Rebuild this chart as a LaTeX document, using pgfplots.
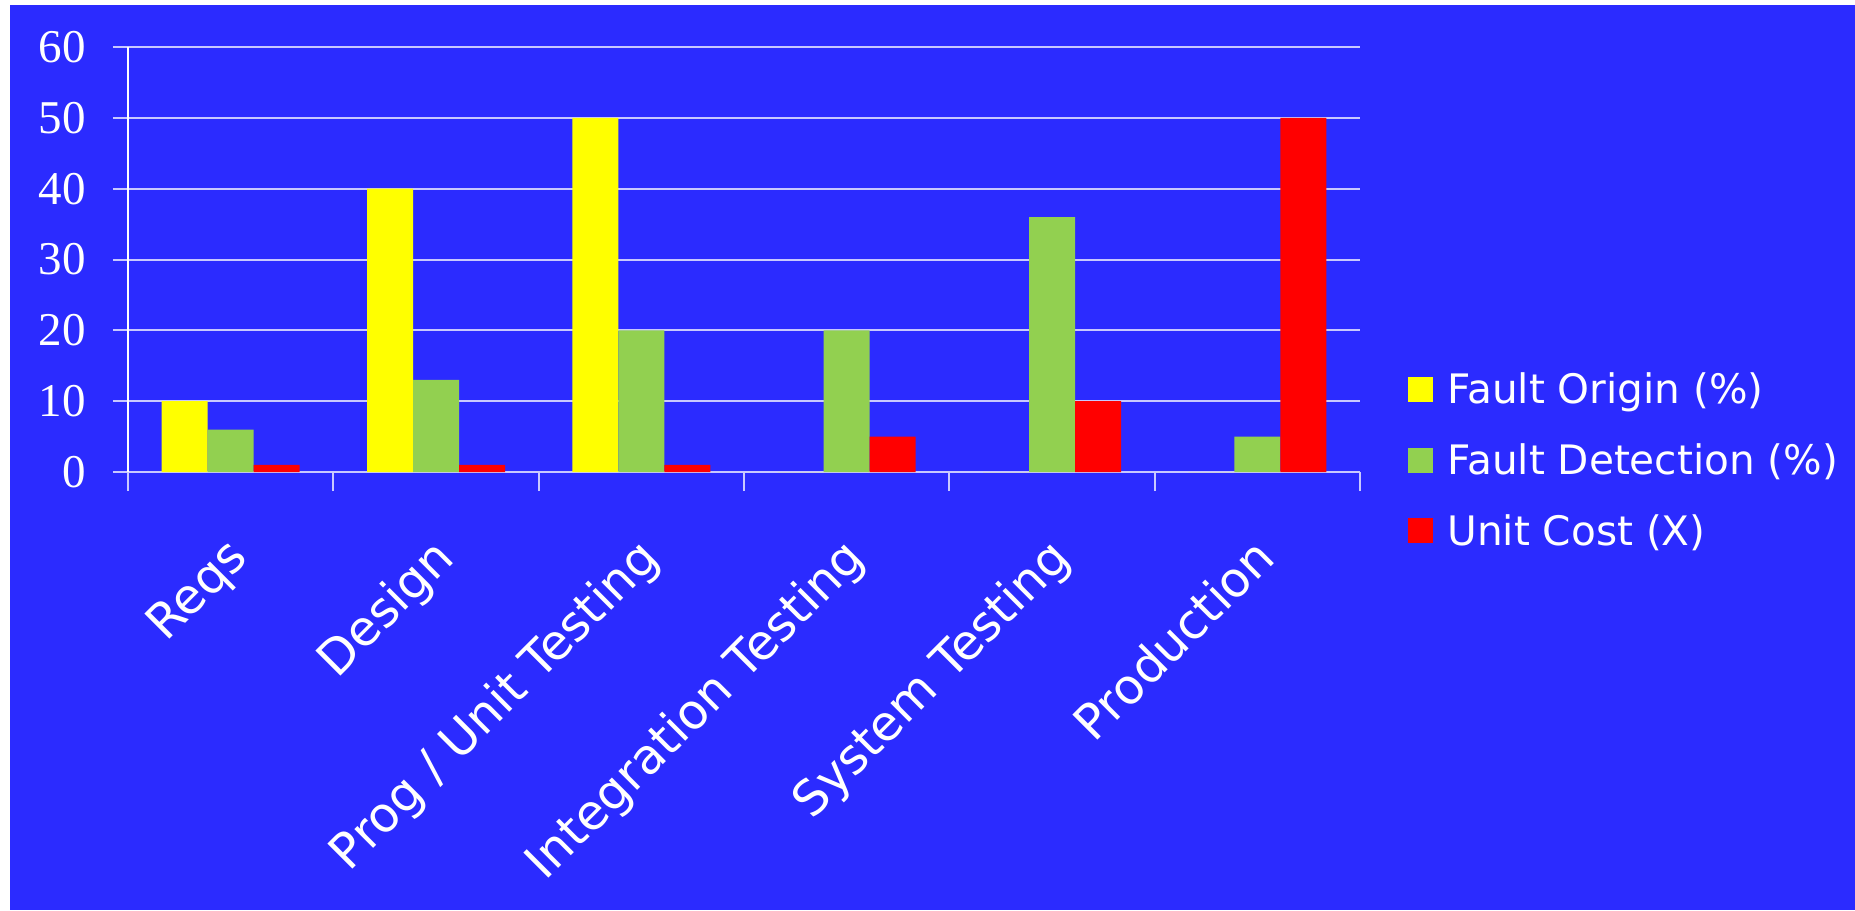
\documentclass[border=0pt]{standalone}
\usepackage{fontspec}
\setmainfont{Liberation Serif}
\newfontfamily\labelfont{DejaVu Sans}
\usepackage{pgfplots}
\pgfplotsset{compat=1.18}
\definecolor{slideblue}{RGB}{43,43,255}
\definecolor{gridlav}{RGB}{200,200,255}
\definecolor{origin}{RGB}{255,255,0}
\definecolor{detect}{RGB}{146,208,80}
\definecolor{cost}{RGB}{255,0,0}
\begin{document}
\begin{tikzpicture}
\useasboundingbox (0,0) rectangle (927.5pt,455pt);
\fill[white] (0,0) rectangle (927.5pt,455pt);
\fill[slideblue] (5pt,0) rectangle (927.5pt,452.5pt);
\begin{axis}[
  at={(64pt,219pt)}, anchor=south west,
  scale only axis, width=616pt, height=212.5pt,
  xmin=-0.5, xmax=5.5, ymin=0, ymax=60,
  ybar=0pt, bar width=23pt,
  xtick={0,...,5},
  xticklabels={Reqs,Design,Prog / Unit Testing,Integration Testing,System Testing,Production},
  minor xtick={-0.5,0.5,...,5.5},
  ytick={0,10,...,60},
  axis x line*=bottom, axis y line*=left,
  x axis line style={-, draw=gridlav, line width=1pt},
  y axis line style={-, draw=white, line width=1pt},
  ymajorgrids, grid style={draw=gridlav, line width=1pt},
  tick align=outside,
  major tick length=7.5pt, minor tick length=9.5pt,
  major x tick style={draw=none},
  minor x tick style={draw=gridlav, line width=1pt},
  ytick style={draw=gridlav, line width=1pt},
  /pgf/number format/assume math mode=true,
  yticklabel style={font=\fontsize{23.5}{28}\selectfont, text=white, xshift=-10pt},
  xticklabel style={font=\labelfont\fontsize{24.3}{28}\selectfont, text=white,
    xshift=-3pt, yshift=-23.5pt, rotate=45, anchor=north east, inner sep=0pt},
  legend style={at={(1.039,0.027)}, anchor=west, draw=none, fill=none,
    font=\labelfont\fontsize{20.3}{24}\selectfont, text=white,
    row sep=12.4pt, inner sep=0pt, nodes={inner sep=3pt},
    column sep=4pt},
  legend cell align=left,
  legend image code/.code={\fill[#1] (0pt,-6pt) rectangle (12.5pt,6.5pt);},
]
\addplot[fill=origin, draw=none] coordinates {(0,10) (1,40) (2,50) (3,0) (4,0) (5,0)};
\addplot[fill=detect, draw=none] coordinates {(0,6) (1,13) (2,20) (3,20) (4,36) (5,5)};
\addplot[fill=cost, draw=none] coordinates {(0,1) (1,1) (2,1) (3,5) (4,10) (5,50)};
\legend{Fault Origin (\%), Fault Detection (\%), Unit Cost (X)}
\end{axis}
\end{tikzpicture}
\end{document}
